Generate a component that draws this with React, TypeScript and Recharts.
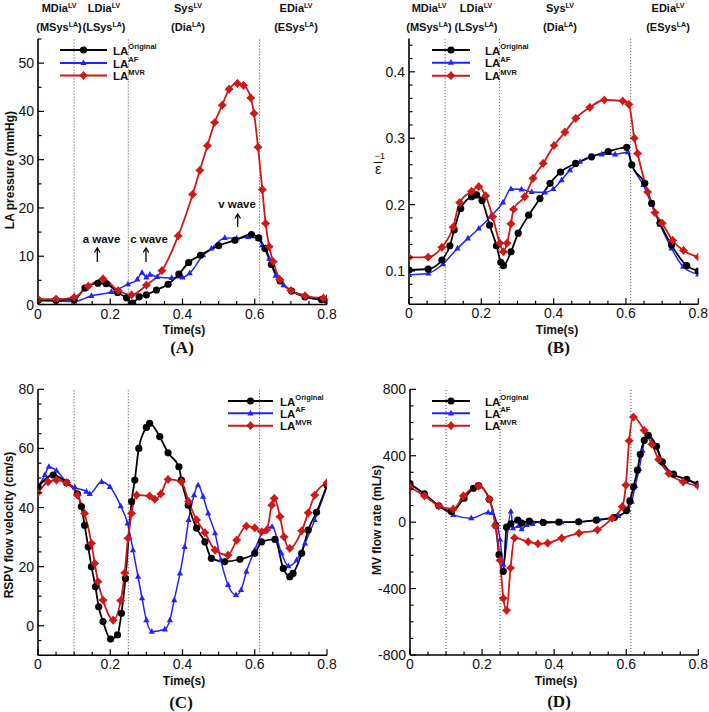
import React from 'react';
import { LineChart, Line, XAxis, YAxis, ReferenceLine } from 'recharts';

type P = [number, number];

// ---------- tick labels / phases ----------
const timeMajor = [0, 0.2, 0.4, 0.6, 0.8];
const phaseLines = [0.1, 0.25, 0.613];
const pressureMajor = [0, 10, 20, 30, 40, 50];
const strainMajor = [0.1, 0.2, 0.3, 0.4];
const velocityMajor = [0, 20, 40, 60, 80];
const flowMajor = [-800, -400, 0, 400, 800];
const phaseNames: [string, string, string, string][] = [
  ['MDia', 'LV', 'MSys', 'LA'],
  ['LDia', 'LV', 'LSys', 'LA'],
  ['Sys', 'LV', 'Dia', 'LA'],
  ['EDia', 'LV', 'ESys', 'LA'],
];
const seriesNames = ['Original', 'AF', 'MVR'];

// ---------- (A) LA pressure ----------
const pressureOriginal: P[] = [
  [0, 0.9], [0.05, 0.9], [0.1, 1.0], [0.13, 3.4], [0.166, 4.4], [0.189, 4.3], [0.22, 2.5], [0.245, 1.4],
  [0.262, 0.3], [0.28, 1.6], [0.3, 2.0], [0.328, 3.0], [0.36, 4.2], [0.39, 6.3], [0.417, 8.7], [0.45, 10.2],
  [0.5, 12.2], [0.545, 13.3], [0.591, 14.5], [0.611, 13.8], [0.628, 11.6], [0.646, 8.3], [0.67, 4.9],
  [0.702, 2.8], [0.739, 1.6], [0.785, 1.0], [0.8, 0.9],
];
const pressureAF: P[] = [
  [0, 0.8], [0.05, 0.7], [0.1, 0.6], [0.148, 1.8], [0.203, 2.6], [0.249, 4.2], [0.275, 5.2], [0.288, 6.6],
  [0.3, 5.6], [0.31, 6.2], [0.33, 5.7], [0.37, 5.5], [0.4, 5.6], [0.42, 6.5], [0.457, 10.2], [0.48, 11.6],
  [0.517, 13.8], [0.55, 13.7], [0.582, 14.0], [0.61, 13.6], [0.621, 12.3], [0.63, 11.8], [0.64, 9.5],
  [0.658, 6.0], [0.68, 4.0], [0.702, 2.8], [0.739, 1.9], [0.79, 0.9], [0.8, 0.8],
];
const pressureMVR: P[] = [
  [0, 1.1], [0.05, 1.1], [0.1, 1.5], [0.139, 3.8], [0.18, 5.3], [0.222, 2.9], [0.259, 2.0], [0.3, 4.0],
  [0.343, 7.0], [0.388, 14.2], [0.428, 22.8], [0.448, 27.8], [0.469, 32.9], [0.489, 37.7], [0.51, 41.3],
  [0.529, 44.6], [0.552, 45.8], [0.569, 45.4], [0.589, 42.8], [0.598, 39.6], [0.609, 32.6], [0.621, 23.8],
  [0.63, 16.8], [0.64, 12.0], [0.651, 8.9], [0.669, 5.2], [0.7, 2.9], [0.739, 1.8], [0.79, 1.3], [0.8, 1.2],
];

// ---------- (B) strain ----------
const strainOriginal: P[] = [
  [0, 0.1015], [0.053, 0.103], [0.091, 0.1166], [0.113, 0.138], [0.125, 0.162], [0.143, 0.194], [0.173, 0.212],
  [0.187, 0.2145], [0.202, 0.206], [0.223, 0.169], [0.242, 0.138], [0.254, 0.113], [0.261, 0.108], [0.282, 0.129],
  [0.302, 0.157], [0.331, 0.184], [0.362, 0.209], [0.39, 0.232], [0.419, 0.249], [0.461, 0.262], [0.505, 0.272],
  [0.551, 0.28], [0.602, 0.2863], [0.616, 0.26], [0.652, 0.232], [0.671, 0.202], [0.694, 0.172], [0.726, 0.139],
  [0.768, 0.108], [0.8, 0.1],
];
const strainAF: P[] = [
  [0, 0.094], [0.053, 0.0965], [0.094, 0.1105], [0.134, 0.134], [0.163, 0.149], [0.193, 0.164], [0.226, 0.182],
  [0.26, 0.2035], [0.282, 0.2235], [0.311, 0.223], [0.339, 0.219], [0.376, 0.2185], [0.399, 0.2235], [0.422, 0.237],
  [0.445, 0.252], [0.473, 0.2645], [0.5, 0.272], [0.533, 0.2757], [0.57, 0.2757], [0.605, 0.279], [0.616, 0.26],
  [0.648, 0.2295], [0.671, 0.2], [0.694, 0.17], [0.726, 0.134], [0.758, 0.1065], [0.8, 0.095],
];
const strainMVR: P[] = [
  [0, 0.1206], [0.053, 0.121], [0.091, 0.1357], [0.122, 0.166], [0.14, 0.203], [0.173, 0.22], [0.193, 0.227],
  [0.212, 0.213], [0.231, 0.182], [0.251, 0.142], [0.261, 0.129], [0.271, 0.142], [0.282, 0.171], [0.289, 0.193],
  [0.32, 0.212], [0.343, 0.2396], [0.371, 0.262], [0.401, 0.289], [0.431, 0.309], [0.461, 0.33], [0.5, 0.3465],
  [0.54, 0.3575], [0.591, 0.356], [0.608, 0.351], [0.623, 0.3], [0.632, 0.277], [0.66, 0.219], [0.68, 0.188],
  [0.7, 0.172], [0.729, 0.146], [0.759, 0.131], [0.8, 0.121],
];

// ---------- (C) RSPV velocity ----------
const velocityOriginal: P[] = [
  [0, 47], [0.042, 51], [0.079, 48.4], [0.109, 44.6], [0.12, 40.3], [0.129, 34], [0.139, 26.7], [0.148, 20],
  [0.159, 13.2], [0.168, 6.4], [0.18, 1.4], [0.201, -4.5], [0.22, -3.1], [0.231, 4.2], [0.242, 16], [0.259, 42],
  [0.268, 49.3], [0.279, 60], [0.3, 67.1], [0.309, 68.5], [0.337, 64], [0.36, 58.5], [0.39, 53.8], [0.397, 49.3],
  [0.416, 40.8], [0.439, 33], [0.462, 28.4], [0.48, 22.8], [0.517, 21.7], [0.559, 22.5], [0.6, 24.5],
  [0.619, 28.4], [0.656, 29.2], [0.679, 19.4], [0.697, 16.6], [0.706, 17.7], [0.73, 24.5], [0.748, 32.4],
  [0.771, 38.4], [0.8, 47.5],
];
const velocityAF: P[] = [
  [0, 47], [0.019, 51], [0.03, 53.8], [0.051, 52.5], [0.079, 48.7], [0.102, 46.8], [0.134, 45.4], [0.143, 44.6],
  [0.176, 48.7], [0.199, 47], [0.229, 40.5], [0.248, 34.6], [0.263, 25.6], [0.277, 16.6], [0.288, 9.3],
  [0.3, 1.9], [0.315, -2], [0.351, -1.2], [0.365, 1.9], [0.377, 8.7], [0.393, 17.7], [0.406, 26.7],
  [0.417, 35.8], [0.432, 44.2], [0.443, 47.6], [0.457, 43.7], [0.471, 38], [0.49, 31.3], [0.506, 22.2],
  [0.526, 13.8], [0.548, 10.4], [0.562, 12.1], [0.577, 18.3], [0.6, 25.6], [0.623, 31.8], [0.648, 33.5],
  [0.674, 24.5], [0.693, 20.2], [0.716, 22.2], [0.739, 27.9], [0.766, 35.8], [0.8, 47.3],
];
const velocityMVR: P[] = [
  [0, 45], [0.028, 48.7], [0.051, 49.3], [0.079, 48.4], [0.109, 44.2], [0.129, 38], [0.148, 27.9], [0.157, 21.1],
  [0.166, 14.9], [0.18, 8.7], [0.208, 1.9], [0.229, 8.5], [0.24, 17.9], [0.249, 29.6], [0.259, 38], [0.273, 44.2],
  [0.309, 43.9], [0.323, 42.8], [0.34, 44.6], [0.36, 49.5], [0.397, 48.7], [0.417, 42], [0.439, 35.8],
  [0.462, 31.5], [0.49, 25.6], [0.526, 23.9], [0.55, 29], [0.577, 33.7], [0.6, 33.1], [0.619, 31.8],
  [0.633, 32.4], [0.647, 40.8], [0.654, 43.1], [0.67, 36.9], [0.681, 30.1], [0.697, 26.2], [0.73, 32.1],
  [0.748, 38.2], [0.766, 44.2], [0.8, 48.4],
];

// ---------- (D) MV flow rate ----------
const flowOriginal: P[] = [
  [0, 232], [0.04, 170], [0.08, 98], [0.115, 64], [0.15, 144], [0.176, 204], [0.19, 220], [0.22, 138],
  [0.238, -20], [0.247, -196], [0.259, -296], [0.268, -30], [0.28, -10], [0.299, 12], [0.31, -5], [0.331, 6],
  [0.37, -2], [0.413, 0], [0.468, 2], [0.517, 12], [0.567, 28], [0.601, 70], [0.61, 128], [0.62, 213],
  [0.631, 313], [0.639, 409], [0.65, 493], [0.661, 523], [0.684, 457], [0.7, 363], [0.731, 289], [0.768, 258],
  [0.8, 229],
];
const flowAF: P[] = [
  [0, 229], [0.04, 170], [0.08, 98], [0.12, 44], [0.17, 24], [0.217, 58], [0.228, 55], [0.25, -106],
  [0.259, -256], [0.28, 64], [0.286, -36], [0.302, -22], [0.31, -42], [0.324, -16], [0.34, -10], [0.365, 4],
  [0.42, 0], [0.47, 2], [0.523, 16], [0.578, 38], [0.604, 74], [0.615, 123], [0.625, 220], [0.636, 320],
  [0.645, 430], [0.657, 530], [0.68, 460], [0.7, 365], [0.73, 290], [0.77, 255], [0.8, 220],
];
const flowMVR: P[] = [
  [0, 210], [0.04, 158], [0.08, 98], [0.12, 78], [0.148, 158], [0.19, 217], [0.22, 138], [0.237, -22],
  [0.25, -230], [0.259, -459], [0.268, -531], [0.279, -276], [0.29, -95], [0.328, -118], [0.355, -130],
  [0.382, -126], [0.421, -96], [0.469, -66], [0.52, -46], [0.561, 24], [0.589, 93], [0.599, 223], [0.608, 490],
  [0.62, 633], [0.65, 553], [0.671, 469], [0.69, 377], [0.718, 293], [0.758, 243], [0.8, 217],
];

// ---------- styling ----------
const FONT = '"Liberation Sans", Arial, Helvetica, sans-serif';
const SERIF = '"Liberation Serif", "Times New Roman", serif';
const BLACK = '#000000';
const BLUE = '#2222ff';
const RED = '#d01818';

const toPts = (arr: P[]) => arr.map(([t, v]) => ({ t, v }));

function stepTicks(lo: number, hi: number, step: number): number[] {
  const out: number[] = [];
  const n = Math.round((hi - lo) / step);
  for (let i = 0; i <= n; i++) out.push(+(lo + i * step).toFixed(6));
  return out;
}

const isMajor = (v: number, majors: number[]) => majors.some((m) => Math.abs(m - v) < 1e-6);

function XTick(props: any) {
  const { x, y, payload, majors } = props;
  const major = isMajor(payload.value, majors);
  return (
    <g>
      <line x1={x} x2={x} y1={y} y2={y - (major ? 6 : 3.5)} stroke="#000" strokeWidth={1.2} />
      {major && (
        <text x={x} y={y + 14} textAnchor="middle" fontSize={14} fontFamily={FONT} fill="#111">
          {String(payload.value)}
        </text>
      )}
    </g>
  );
}

function YTick(props: any) {
  const { x, y, payload, majors } = props;
  const major = isMajor(payload.value, majors);
  return (
    <g>
      <line x1={x} x2={x + (major ? 6 : 3.5)} y1={y} y2={y} stroke="#000" strokeWidth={1.2} />
      {major && (
        <text x={x - 4} y={y + 5} textAnchor="end" fontSize={14} fontFamily={FONT} fill="#111">
          {String(payload.value)}
        </text>
      )}
    </g>
  );
}

const circleDot = (props: any) => {
  const { cx, cy, index } = props;
  if (cx == null || cy == null) return <g key={`c${index}`} />;
  return <circle key={`c${index}`} cx={cx} cy={cy} r={3.6} fill={BLACK} />;
};
const triDot = (props: any) => {
  const { cx, cy, index } = props;
  if (cx == null || cy == null) return <g key={`t${index}`} />;
  return (
    <polygon
      key={`t${index}`}
      points={`${cx},${cy - 3.6} ${cx + 3.1},${cy + 2.1} ${cx - 3.1},${cy + 2.1}`}
      fill={BLUE}
    />
  );
};
const starPath = (cx: number, cy: number) => {
  const o = 4.6;
  const i = 2.1;
  return `M${cx},${cy - o} L${cx + i},${cy - i} L${cx + o},${cy} L${cx + i},${cy + i} L${cx},${cy + o} L${cx - i},${cy + i} L${cx - o},${cy} L${cx - i},${cy - i} Z`;
};
const starDot = (props: any) => {
  const { cx, cy, index } = props;
  if (cx == null || cy == null) return <g key={`s${index}`} />;
  return <path key={`s${index}`} d={starPath(cx, cy)} fill={RED} />;
};

type PanelProps = {
  left: number;
  top: number;
  width: number;
  height: number;
  margin: { top: number; right: number; bottom: number; left: number };
  yWidth: number;
  yDomain: [number, number];
  yTicks: number[];
  yMajor: number[];
  orig: P[];
  af: P[];
  mvr: P[];
};

const xTicks = stepTicks(0, 0.8, 0.05);

function Panel(p: PanelProps) {
  return (
    <div style={{ position: 'absolute', left: p.left, top: p.top }}>
      <LineChart width={p.width} height={p.height} margin={p.margin}>
        <XAxis
          dataKey="t"
          type="number"
          domain={[0, 0.8]}
          ticks={xTicks}
          interval={0}
          tickSize={0}
          tickMargin={0}
          tickLine={false}
          tick={<XTick majors={timeMajor} />}
          axisLine={{ stroke: '#000', strokeWidth: 1.6 }}
          height={20}
          allowDataOverflow
        />
        <YAxis
          type="number"
          domain={p.yDomain}
          ticks={p.yTicks}
          interval={0}
          tickSize={0}
          tickMargin={0}
          tickLine={false}
          tick={<YTick majors={p.yMajor} />}
          axisLine={{ stroke: '#000', strokeWidth: 1.6 }}
          width={p.yWidth}
          allowDataOverflow
        />
        {phaseLines.map((x) => (
          <ReferenceLine key={x} x={x} stroke="#444" strokeWidth={1} strokeDasharray="1 2" />
        ))}
        <Line data={toPts(p.af)} dataKey="v" type="monotone" stroke={BLUE} strokeWidth={1.5} dot={triDot} isAnimationActive={false} />
        <Line data={toPts(p.orig)} dataKey="v" type="monotone" stroke={BLACK} strokeWidth={1.8} dot={circleDot} isAnimationActive={false} />
        <Line data={toPts(p.mvr)} dataKey="v" type="monotone" stroke={RED} strokeWidth={1.8} dot={starDot} isAnimationActive={false} />
      </LineChart>
    </div>
  );
}

function Phases({ xs }: { xs: number[] }) {
  return (
    <g fontFamily={FONT} fontWeight="bold" fill="#111">
      {phaseNames.map(([a, as, b, bs], i) => (
        <g key={i}>
          <text x={xs[i]} y={12} textAnchor="middle" fontSize={11}>
            {a}
            <tspan dy={-4.5} fontSize={7}>{as}</tspan>
          </text>
          <text x={xs[i]} y={31} textAnchor="middle" fontSize={11}>
            ({b}
            <tspan dy={-4.5} fontSize={7}>{bs}</tspan>
            <tspan dy={4.5}>)</tspan>
          </text>
        </g>
      ))}
    </g>
  );
}

function LegendBlock({ x1, x2, tx, ys }: { x1: number; x2: number; tx: number; ys: number[] }) {
  const mx = (x1 + x2) / 2;
  const colors = [BLACK, BLUE, RED];
  return (
    <g>
      {ys.map((y, i) => (
        <g key={i}>
          <line x1={x1} x2={x2} y1={y} y2={y} stroke={colors[i]} strokeWidth={2} />
          {i === 0 && <circle cx={mx} cy={y} r={3.6} fill={BLACK} />}
          {i === 1 && <polygon points={`${mx},${y - 3.6} ${mx + 3.1},${y + 2.1} ${mx - 3.1},${y + 2.1}`} fill={BLUE} />}
          {i === 2 && <path d={starPath(mx, y)} fill={RED} />}
          <text x={tx} y={y + 4.5} fontSize={11.5} fontWeight="bold" fontFamily={FONT} fill="#111">
            LA
            <tspan dy={-5.5} fontSize={7.5}>{seriesNames[i]}</tspan>
          </text>
        </g>
      ))}
    </g>
  );
}

function Arrow({ x, y1, y2 }: { x: number; y1: number; y2: number }) {
  return (
    <g stroke="#000" strokeWidth={1.3} fill="none">
      <line x1={x} x2={x} y1={y1} y2={y2 + 1} />
      <path d={`M${x - 2.8},${y2 + 4.5} L${x},${y2} L${x + 2.8},${y2 + 4.5}`} />
    </g>
  );
}

const axisTitle = { fontFamily: FONT, fontWeight: 'bold' as const, fontSize: 12, fill: '#111' };

export default function App() {
  return (
    <div style={{ position: 'absolute', left: 0, top: 0, width: 709, height: 712, background: '#fff', overflow: 'hidden' }}>
      <Panel
        left={0} top={0} width={354} height={360}
        margin={{ top: 39, right: 27, bottom: 35.5, left: 0 }}
        yWidth={38} yDomain={[0, 55]} yTicks={stepTicks(0, 55, 5)} yMajor={pressureMajor}
        orig={pressureOriginal} af={pressureAF} mvr={pressureMVR}
      />
      <Panel
        left={355} top={0} width={354} height={360}
        margin={{ top: 38.6, right: 10.7, bottom: 35.8, left: 0 }}
        yWidth={54} yDomain={[0.05, 0.45]} yTicks={stepTicks(0.06, 0.44, 0.02)} yMajor={strainMajor}
        orig={strainOriginal} af={strainAF} mvr={strainMVR}
      />
      <Panel
        left={0} top={360} width={354} height={352}
        margin={{ top: 29.3, right: 27, bottom: 36.7, left: 0 }}
        yWidth={38} yDomain={[-10, 80]} yTicks={stepTicks(-10, 80, 5)} yMajor={velocityMajor}
        orig={velocityOriginal} af={velocityAF} mvr={velocityMVR}
      />
      <Panel
        left={355} top={360} width={354} height={352}
        margin={{ top: 29.3, right: 10.7, bottom: 37, left: 0 }}
        yWidth={55} yDomain={[-800, 800]} yTicks={stepTicks(-800, 800, 100)} yMajor={flowMajor}
        orig={flowOriginal} af={flowAF} mvr={flowMVR}
      />
      <svg width={709} height={712} style={{ position: 'absolute', left: 0, top: 0, pointerEvents: 'none' }}>
        <Phases xs={[59, 104, 188, 296]} />
        <Phases xs={[429, 476, 560, 668]} />

        <LegendBlock x1={60} x2={107} tx={113} ys={[50, 63, 75.5]} />
        <LegendBlock x1={432} x2={470} tx={485} ys={[50, 62.7, 75.7]} />
        <LegendBlock x1={228} x2={273} tx={280} ys={[401, 413.3, 425.7]} />
        <LegendBlock x1={432} x2={470} tx={485} ys={[401, 413.3, 425.7]} />

        {/* annotations in (A) */}
        <g fontFamily={FONT} fontWeight="bold" fontSize={11.5} fill="#111" textAnchor="middle">
          <text x={101.5} y={243}>a wave</text>
          <text x={149} y={243}>c wave</text>
          <text x={237} y={208}>v wave</text>
        </g>
        <Arrow x={97.3} y1={262} y2={248} />
        <Arrow x={146} y1={262} y2={248} />
        <Arrow x={237.7} y1={227} y2={214} />

        {/* axis titles */}
        <text transform="translate(14,170) rotate(-90)" textAnchor="middle" {...axisTitle}>LA pressure (mmHg)</text>
        <text transform="translate(13,525) rotate(-90)" textAnchor="middle" {...axisTitle}>RSPV flow velocity (cm/s)</text>
        <text transform="translate(381,520) rotate(-90)" textAnchor="middle" {...axisTitle}>MV flow rate (mL/s)</text>
        <g fontFamily={FONT} fill="#111">
          <text x={380} y={159} fontSize={9} textAnchor="middle">−1</text>
          <line x1={373.5} x2={382.5} y1={162.5} y2={162.5} stroke="#111" strokeWidth={1.1} />
          <text x={378} y={174} fontSize={14} textAnchor="middle">ε</text>
        </g>

        <text x={184} y={334} textAnchor="middle" {...axisTitle}>Time(s)</text>
        <text x={557} y={334} textAnchor="middle" {...axisTitle}>Time(s)</text>
        <text x={184} y={685} textAnchor="middle" {...axisTitle}>Time(s)</text>
        <text x={556} y={685} textAnchor="middle" {...axisTitle}>Time(s)</text>

        <g fontFamily={SERIF} fontWeight="bold" fontSize={17} fill="#111" textAnchor="middle">
          <text x={182} y={353}>(A)</text>
          <text x={558.5} y={353}>(B)</text>
          <text x={181} y={708}>(C)</text>
          <text x={559} y={707}>(D)</text>
        </g>
      </svg>
    </div>
  );
}
